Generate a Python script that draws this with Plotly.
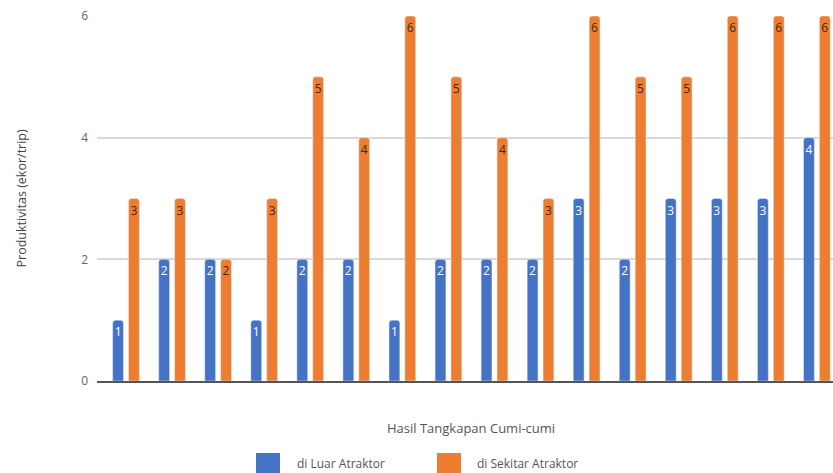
import plotly.graph_objects as go

categories = [str(i) for i in range(1, 17)]
luar = [1, 2, 2, 1, 2, 2, 1, 2, 2, 2, 3, 2, 3, 3, 3, 4]
sekitar = [3, 3, 2, 3, 5, 4, 6, 5, 4, 3, 6, 5, 5, 6, 6, 6]
series_names = ["di Luar Atraktor", "di Sekitar Atraktor"]
y_ticks = [0, 2, 4, 6]

BLUE = "#4472c4"
ORANGE = "#ed7d31"
W = 0.235

fig = go.Figure()
fig.add_trace(go.Bar(
    x=categories, y=luar, name=series_names[0], marker_color=BLUE,
    width=W, offset=-0.29, text=[str(v) for v in luar],
    textposition="inside", insidetextanchor="end", textangle=0,
    constraintext="none",
    textfont=dict(color="white", size=12, family="Open Sans"),
    showlegend=False,
))
fig.add_trace(go.Bar(
    x=categories, y=sekitar, name=series_names[1], marker_color=ORANGE,
    width=W, offset=0.055, text=[str(v) for v in sekitar],
    textposition="inside", insidetextanchor="end", textangle=0,
    constraintext="none",
    textfont=dict(color="#3a2a1a", size=12, family="Open Sans"),
    showlegend=False,
))

L, R = 97, 833
PW = R - L

def px(xpix):
    return (xpix - L) / PW

annotations = [
    dict(text="Hasil Tangkapan Cumi-cumi", xref="paper", yref="paper",
         x=px(471), y=-0.128, xanchor="center", yanchor="middle",
         showarrow=False, font=dict(size=13, color="#555", family="Open Sans")),
    dict(text="Produktivitas (ekor/trip)", xref="paper", yref="paper",
         x=px(21), y=0.5, xanchor="center", yanchor="middle", textangle=-90,
         showarrow=False, font=dict(size=12.5, color="#444", family="Open Sans")),
    dict(text=series_names[0], xref="paper", yref="paper",
         x=px(295), y=-0.227, xanchor="left", yanchor="middle",
         showarrow=False, font=dict(size=12, color="#555", family="Open Sans")),
    dict(text=series_names[1], xref="paper", yref="paper",
         x=px(475), y=-0.227, xanchor="left", yanchor="middle",
         showarrow=False, font=dict(size=12, color="#555", family="Open Sans")),
]

PH = 381 - 16
def py(ypix):
    return (381 - ypix) / PH

shapes = [
    dict(type="rect", xref="paper", yref="paper", x0=px(256), x1=px(280),
         y0=py(477), y1=py(453), fillcolor=BLUE, line=dict(width=0), layer="above"),
    dict(type="rect", xref="paper", yref="paper", x0=px(437), x1=px(461),
         y0=py(477), y1=py(453), fillcolor=ORANGE, line=dict(width=0), layer="above"),
]

fig.update_layout(
    width=833, height=473,
    margin=dict(l=L, r=0, t=16, b=92),
    paper_bgcolor="white", plot_bgcolor="white",
    barmode="overlay", barcornerradius=3,
    font=dict(family="Open Sans", color="#555"),
    annotations=annotations, shapes=shapes,
    xaxis=dict(
        type="category", range=[-0.63, 15.35], showticklabels=False,
        showgrid=False, showline=True, linecolor="#555", linewidth=2,
        ticks="", zeroline=False,
    ),
    yaxis=dict(
        range=[0, 6], tickvals=y_ticks, showgrid=True, gridcolor="#d9d9d9",
        gridwidth=1.5, zeroline=False, ticks="", ticklabelstandoff=8,
        tickfont=dict(size=12, color="#666", family="Open Sans"),
    ),
)

fig.write_html(
    "out.html",
    config={"displayModeBar": False},
    post_script="document.body.style.margin='0';document.body.style.overflow='hidden';",
)
